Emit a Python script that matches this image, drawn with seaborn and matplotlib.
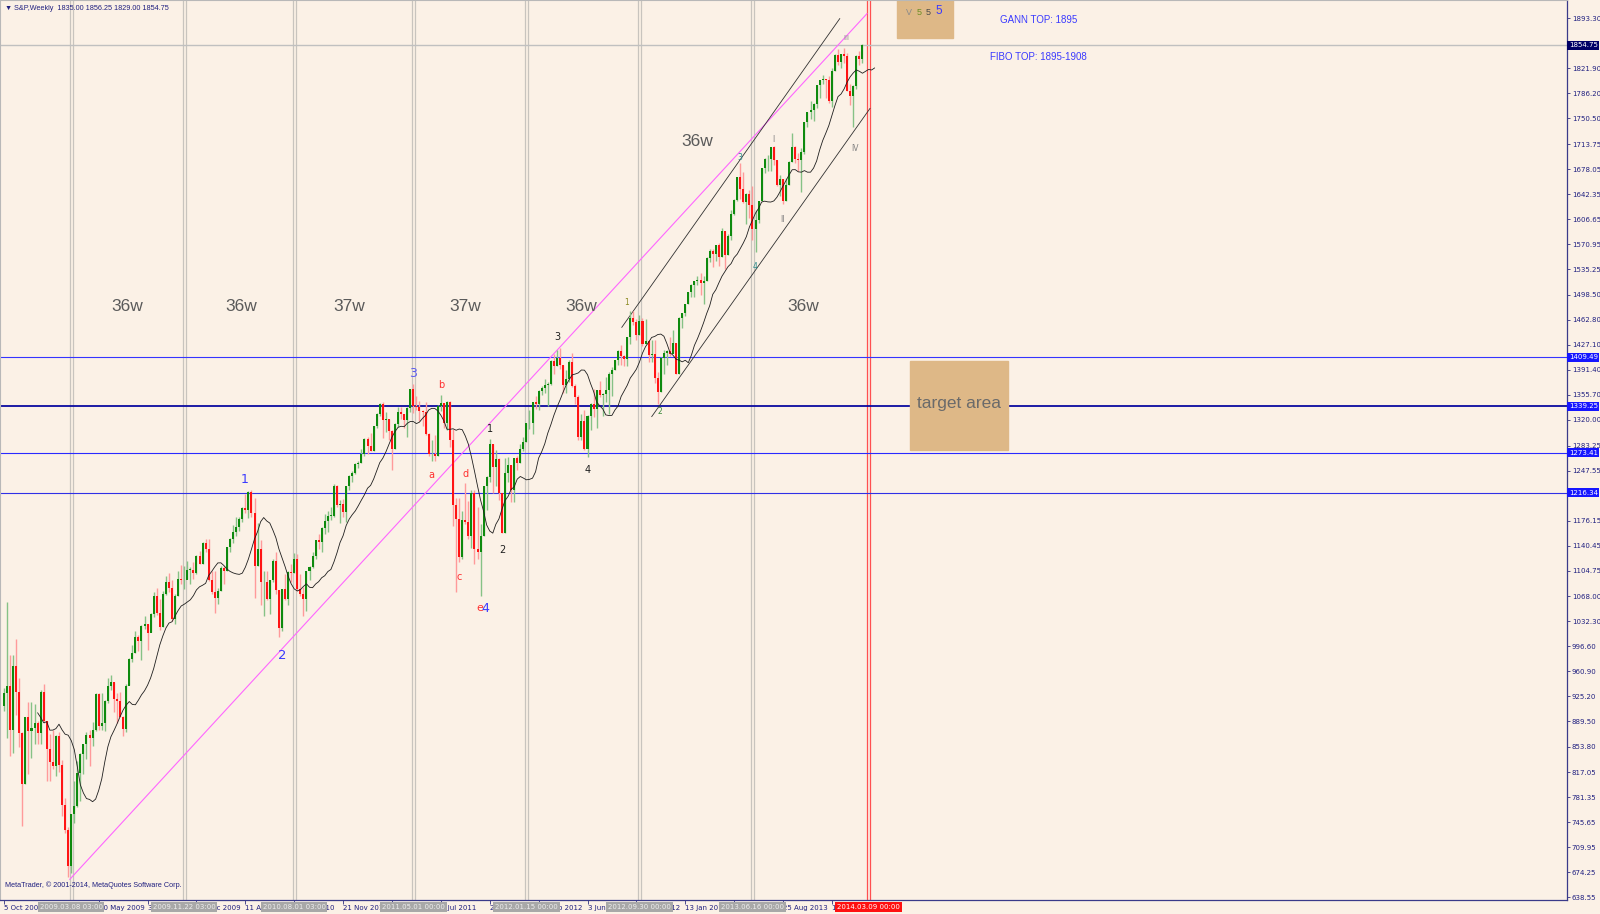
import numpy as np
import pandas as pd
import matplotlib
matplotlib.use("Agg")
import matplotlib.pyplot as plt
import matplotlib.transforms as mtransforms
import seaborn as sns

# ---------------- data (weekly bars) ----------------
first_open = 912
closes = [930, 940, 877, 969, 931, 873, 800, 896, 876, 880, 888, 873, 932, 890, 850, 832, 826, 869, 827, 770,
          735, 683, 757, 769, 816, 843, 857, 870, 866, 878, 929, 883, 887, 919, 940, 946, 921, 919, 896, 879,
          940, 979, 987, 1010, 1004, 1026, 1029, 1016, 1043, 1068, 1044, 1025, 1071, 1088, 1080, 1036, 1069, 1093, 1091, 1091,
          1106, 1106, 1102, 1126, 1115, 1145, 1136, 1092, 1074, 1066, 1076, 1109, 1104, 1139, 1150, 1160, 1167, 1178, 1194, 1192,
          1217, 1187, 1111, 1136, 1088, 1089, 1065, 1092, 1118, 1077, 1023, 1078, 1065, 1103, 1102, 1122, 1079, 1072, 1065, 1105,
          1110, 1126, 1149, 1146, 1165, 1176, 1183, 1183, 1226, 1199, 1200, 1189, 1225, 1240, 1244, 1257, 1258, 1272, 1293, 1283,
          1276, 1311, 1329, 1343, 1320, 1321, 1304, 1279, 1314, 1332, 1328, 1320, 1337, 1364, 1340, 1338, 1333, 1331, 1300, 1271,
          1272, 1268, 1340, 1344, 1316, 1345, 1292, 1199, 1179, 1124, 1177, 1174, 1154, 1216, 1136, 1131, 1155, 1225, 1238, 1285,
          1253, 1264, 1216, 1159, 1244, 1255, 1220, 1265, 1258, 1278, 1289, 1315, 1316, 1345, 1343, 1361, 1366, 1370, 1371, 1404,
          1397, 1408, 1398, 1370, 1379, 1403, 1369, 1353, 1295, 1318, 1278, 1326, 1343, 1335, 1362, 1355, 1357, 1363, 1386, 1391,
          1406, 1418, 1411, 1407, 1438, 1466, 1460, 1441, 1461, 1429, 1433, 1412, 1414, 1380, 1360, 1409, 1416, 1418, 1414, 1430,
          1386, 1466, 1472, 1486, 1503, 1513, 1518, 1520, 1516, 1518, 1551, 1561, 1557, 1569, 1553, 1589, 1555, 1582, 1614, 1634,
          1667, 1650, 1631, 1643, 1627, 1592, 1606, 1632, 1680, 1692, 1692, 1710, 1691, 1656, 1664, 1633, 1655, 1688, 1710, 1692,
          1691, 1703, 1745, 1760, 1762, 1771, 1798, 1805, 1806, 1805, 1775, 1818, 1841, 1831, 1842, 1839, 1790, 1783, 1797, 1839,
          1835, 1854.75]
highs = [938, 1060, 985, 984, 1007, 951, 874, 896, 918, 918, 914, 890, 935, 943, 890, 871, 877, 870, 875, 835,
         780, 739, 758, 804, 833, 845, 857, 875, 878, 889, 930, 930, 930, 920, 951, 956, 946, 930, 931, 898,
         943, 980, 999, 1018, 1013, 1027, 1040, 1028, 1045, 1074, 1080, 1065, 1076, 1097, 1101, 1091, 1072, 1105, 1113, 1112,
         1119, 1110, 1117, 1127, 1133, 1146, 1150, 1150, 1104, 1104, 1080, 1112, 1112, 1139, 1151, 1170, 1181, 1182, 1195, 1214,
         1218, 1220, 1208, 1173, 1148, 1105, 1105, 1092, 1121, 1131, 1077, 1078, 1100, 1104, 1115, 1130, 1129, 1100, 1081, 1105,
         1111, 1131, 1149, 1157, 1167, 1185, 1190, 1196, 1228, 1227, 1205, 1207, 1226, 1241, 1247, 1259, 1262, 1278, 1294, 1296,
         1302, 1312, 1330, 1344, 1345, 1332, 1322, 1305, 1315, 1338, 1339, 1329, 1338, 1364, 1371, 1354, 1347, 1334, 1346, 1301,
         1292, 1298, 1341, 1356, 1344, 1347, 1347, 1307, 1208, 1208, 1190, 1230, 1204, 1220, 1220, 1195, 1171, 1225, 1240, 1293,
         1285, 1277, 1266, 1216, 1266, 1267, 1255, 1266, 1269, 1285, 1296, 1316, 1334, 1345, 1354, 1363, 1368, 1378, 1374, 1406,
         1414, 1420, 1422, 1398, 1391, 1406, 1415, 1371, 1355, 1328, 1334, 1327, 1344, 1364, 1363, 1375, 1358, 1381, 1389, 1395,
         1406, 1420, 1427, 1413, 1438, 1475, 1475, 1464, 1470, 1465, 1464, 1434, 1434, 1434, 1389, 1410, 1420, 1420, 1439, 1448,
         1430, 1467, 1473, 1486, 1503, 1514, 1518, 1525, 1530, 1526, 1553, 1564, 1564, 1570, 1573, 1594, 1590, 1585, 1619, 1635,
         1667, 1687, 1674, 1644, 1648, 1654, 1620, 1632, 1680, 1694, 1698, 1710, 1711, 1691, 1669, 1664, 1665, 1689, 1730, 1711,
         1701, 1708, 1745, 1760, 1775, 1772, 1798, 1805, 1813, 1806, 1811, 1823, 1843, 1849, 1843, 1851, 1844, 1799, 1798, 1841,
         1847, 1856.25]
lows = [904, 866, 840, 845, 899, 853, 741, 800, 815, 837, 857, 857, 857, 888, 805, 804, 821, 812, 818, 754,
        731, 667, 673, 745, 767, 776, 814, 836, 826, 855, 876, 878, 877, 876, 916, 934, 903, 888, 896, 869,
        875, 941, 974, 987, 990, 978, 1021, 991, 1017, 1039, 1042, 1020, 1025, 1070, 1074, 1033, 1029, 1069, 1086, 1079,
        1093, 1086, 1093, 1100, 1115, 1115, 1131, 1090, 1071, 1044, 1057, 1076, 1086, 1104, 1132, 1145, 1155, 1162, 1174, 1187,
        1180, 1181, 1066, 1111, 1056, 1040, 1063, 1043, 1088, 1071, 1010, 1018, 1063, 1056, 1088, 1101, 1076, 1069, 1040, 1047,
        1092, 1108, 1122, 1136, 1131, 1157, 1160, 1177, 1181, 1195, 1173, 1182, 1174, 1220, 1232, 1243, 1252, 1258, 1268, 1271,
        1275, 1276, 1309, 1326, 1294, 1303, 1291, 1249, 1279, 1310, 1321, 1309, 1295, 1332, 1330, 1334, 1318, 1311, 1298, 1268,
        1262, 1262, 1268, 1333, 1309, 1305, 1282, 1168, 1075, 1117, 1122, 1171, 1150, 1137, 1114, 1121, 1068, 1155, 1191, 1231,
        1215, 1226, 1206, 1158, 1158, 1231, 1203, 1203, 1248, 1258, 1275, 1289, 1307, 1300, 1336, 1334, 1356, 1359, 1340, 1370,
        1386, 1397, 1392, 1358, 1358, 1374, 1367, 1343, 1292, 1291, 1277, 1267, 1306, 1324, 1309, 1352, 1326, 1346, 1329, 1354,
        1391, 1399, 1398, 1397, 1397, 1429, 1455, 1434, 1441, 1425, 1429, 1403, 1403, 1373, 1343, 1360, 1385, 1398, 1411, 1416,
        1385, 1385, 1451, 1468, 1485, 1495, 1495, 1513, 1498, 1485, 1518, 1546, 1538, 1547, 1540, 1553, 1536, 1556, 1577, 1613,
        1632, 1635, 1630, 1599, 1608, 1577, 1560, 1601, 1633, 1672, 1676, 1676, 1684, 1654, 1640, 1628, 1633, 1656, 1688, 1687,
        1675, 1646, 1700, 1738, 1750, 1746, 1765, 1780, 1799, 1780, 1772, 1767, 1818, 1827, 1823, 1830, 1790, 1770, 1738, 1792,
        1826, 1829]

tick_pos = [0, 31, 47, 63, 79, 95, 111, 127, 143, 159, 175, 191, 207, 223, 239, 255, 271]
tick_labels = ["5 Oct 2008", "10 May 2009", "30 Aug 2009", "20 Dec 2009", "11 Apr 2010",
               "1 Aug 2010", "21 Nov 2010", "13 Mar 2011", "3 Jul 2011", "23 Oct 2011", "12 Feb 2012",
               "3 Jun 2012", "23 Sep 2012", "13 Jan 2013", "5 May 2013", "25 Aug 2013", "15 Dec 2013"]
vline_pos = [22, 59, 95, 134, 171, 208, 245, 283]
vline_labels = ["2009.03.08 03:00", "2009.11.22 03:00", "2010.08.01 03:00", "2011.05.01 00:00",
                "2012.01.15 00:00", "2012.09.30 00:00", "2013.06.16 00:00", "2014.03.09 00:00"]
y_ticks = [1893.30, 1821.90, 1786.20, 1750.50, 1713.75, 1678.05, 1642.35, 1606.65, 1570.95, 1535.25,
           1498.50, 1462.80, 1427.10, 1391.40, 1355.70, 1320.00, 1283.25, 1247.55, 1176.15, 1140.45,
           1104.75, 1068.00, 1032.30, 996.60, 960.90, 925.20, 889.50, 853.80, 817.05, 781.35, 745.65,
           709.95, 674.25, 638.55]
levels = [1409.49, 1339.25, 1273.41, 1216.34]
last_price = 1854.75
ma_period = 8
ma_shift = 4

cycle_labels = ["36w", "36w", "37w", "37w", "36w", "36w", "36w"]
cycle_pos = [(40.5, 1482), (77.5, 1482), (112.9, 1482), (151, 1482), (189, 1482), (226.8, 1717), (261.5, 1482)]

# ---------------- style ----------------
BG = "#FBF1E6"
sns.set_style("white", rc={"axes.facecolor": BG, "figure.facecolor": BG})
plt.rcParams["font.family"] = ["DejaVu Sans"]

fig = plt.figure(figsize=(16, 9.14), dpi=100)
ax = fig.add_axes([0.0, 14 / 914, 1567 / 1600, 900 / 914])
ax.set_facecolor(BG)

n = len(closes)
x = np.arange(n)
c = np.array(closes, dtype=float)
h = np.array(highs, dtype=float)
l = np.array(lows, dtype=float)
o = np.concatenate([[first_open], c[:-1]])
up = c >= o

# vertical time-cycle lines (double lines)
for i, (p, lab) in enumerate(zip(vline_pos, vline_labels)):
    col = "#FF5050" if i == len(vline_pos) - 1 else "#C8C4BE"
    for dx in (-0.45, 0.45):
        ax.axvline(p + dx, color=col, lw=0.9, zorder=1)

# horizontal levels
ax.axhline(last_price, color="#C0C0C0", lw=1.0, zorder=1)
lvl_col = ["#3434FF", "#0A0AA0", "#2A2AFF", "#3030E6"]
lvl_lw = [0.8, 1.3, 0.8, 0.8]
for lv, cc, lw in zip(levels, lvl_col, lvl_lw):
    ax.axhline(lv, color=cc, lw=lw, zorder=1)

# diagonal trend / channel lines
ax.plot([21.5, 282.5], [664, 1900], color="#FF66FF", lw=0.8, zorder=2)
ax.plot([202.2, 273.6], [1452, 1893], color="#303030", lw=0.6, zorder=2)
ax.plot([212.0, 283.5], [1324.6, 1764.8], color="#303030", lw=0.6, zorder=2)

# candles
ax.vlines(x[up], l[up], h[up], color="#86C286", lw=1.0, zorder=3)
ax.vlines(x[~up], l[~up], h[~up], color="#FF9A9A", lw=1.0, zorder=3)
body_h = np.abs(c - o)
body_h = np.where(body_h < 1.0, 1.0, body_h)
ax.bar(x[up], body_h[up], bottom=np.minimum(o, c)[up], width=0.66, color="#0E8A0E", lw=0, zorder=4)
ax.bar(x[~up], body_h[~up], bottom=np.minimum(o, c)[~up], width=0.66, color="#FF1414", lw=0, zorder=4)

# moving average (shifted)
ma = pd.Series(c).rolling(ma_period).mean()
ma_df = pd.DataFrame({"x": x + ma_shift, "ma": ma}).dropna()
sns.lineplot(data=ma_df, x="x", y="ma", ax=ax, color="#1E1E1E", lw=0.6, zorder=5)

# boxes
ax.add_patch(plt.Rectangle((292.3, 1865), 18.3, 60, color="#DEB887", zorder=2))
ax.add_patch(plt.Rectangle((296.6, 1277), 32.0, 127, color="#DEB887", zorder=2))
ax.text(312.6, 1344, "target area", fontsize=12.5, color="#6A6A6A", ha="center", va="center",
        family="Liberation Sans", zorder=6)
ax.text(296.2, 1902, "V", fontsize=6.5, color="#8A8A8A", ha="center", va="center", family="Liberation Sans")
ax.text(299.6, 1902, "5", fontsize=6.5, color="#6B8E23", ha="center", va="center", family="Liberation Sans")
ax.text(302.6, 1902, "5", fontsize=6.5, color="#4A4A4A", ha="center", va="center", family="Liberation Sans")
ax.text(305.9, 1903, "5", fontsize=8.5, color="#3A3AFF", ha="center", va="center", family="Liberation Sans")

ax.text(326.0, 1891.5, "GANN TOP: 1895", fontsize=7, color="#3A3AFF", ha="left", va="center",
        family="Liberation Sans")
ax.text(322.7, 1838, "FIBO TOP: 1895-1908", fontsize=7, color="#3A3AFF", ha="left", va="center",
        family="Liberation Sans")

# cycle labels
for lab, (px, py) in zip(cycle_labels, cycle_pos):
    ax.text(px, py, lab, fontsize=12.5, color="#5A5A5A", ha="center", va="center", family="Liberation Sans")

# wave labels
waves = [
    ("1", 78.9, 1235, "#3A3AFF", 9), ("2", 91.2, 983, "#3A3AFF", 9.5), ("3", 134.0, 1386, "#5C5CEE", 9),
    ("e", 155.6, 1051, "#FF3030", 8), ("4", 157.5, 1051, "#3A3AFF", 9),
    ("b", 143.0, 1370, "#FF3030", 7), ("a", 140.0, 1242, "#FF3030", 7), ("c", 149.0, 1096, "#FF3030", 7),
    ("d", 151.0, 1243, "#FF3030", 7),
    ("1", 159.0, 1307, "#202020", 7), ("2", 163.0, 1134, "#202020", 7), ("3", 181.0, 1439, "#202020", 7),
    ("4", 191.1, 1248, "#202020", 7),
    ("1", 203.8, 1487, "#8A8A20", 5.5), ("2", 214.8, 1332, "#3A8A3A", 5.5), ("3", 240.9, 1695, "#2A8A8A", 5.5),
    ("4", 245.9, 1539, "#2A8A8A", 5.5),
    ("I", 251.9, 1720, "#808080", 5.5), ("II", 254.9, 1606, "#808080", 5.5), ("III", 275.6, 1865, "#909090", 5),
    ("IV", 278.6, 1708, "#808080", 5.5),
]
for s, px, py, col, fs in waves:
    ax.text(px, py, s, fontsize=fs, color=col, ha="center", va="center", zorder=6, family="DejaVu Sans")

# axes limits / ticks
ax.set_xlim(-4 / 3.055, (1567 - 4) / 3.055)
ax.set_ylim(634.7, 1919.4)
ax.yaxis.tick_right()
ax.set_yticks(y_ticks)
ax.set_yticklabels([f"{v:.2f}" for v in y_ticks])
ax.set_xticks(tick_pos)
ax.set_xticklabels(tick_labels)
for lab in ax.get_xticklabels():
    lab.set_ha("left")
ax.tick_params(axis="y", which="both", right=True, length=2, width=0.6, color="#303080",
               labelsize=5, labelcolor="#202080", pad=1.5)
ax.tick_params(axis="x", which="both", bottom=True, length=3, width=0.6, color="#303080",
               labelsize=5, labelcolor="#202080", pad=0.5)
ax.set_xlabel("")
ax.set_ylabel("")
for side in ("left", "top"):
    ax.spines[side].set_color("#B8B8B8")
    ax.spines[side].set_linewidth(0.8)
for side in ("right", "bottom"):
    ax.spines[side].set_color("#3A3A8A")
    ax.spines[side].set_linewidth(0.9)

# price labels on the right axis
ytrans = mtransforms.blended_transform_factory(ax.transAxes, ax.transData)
ax.text(1.0012, last_price, f"{last_price:.2f}", transform=ytrans, fontsize=5, color="white",
        ha="left", va="center", clip_on=False, zorder=10,
        bbox=dict(boxstyle="square,pad=0.2", fc="#000066", ec="none"))
for lv in levels:
    ax.text(1.0012, lv, f"{lv:.2f}", transform=ytrans, fontsize=5, color="white",
            ha="left", va="center", clip_on=False, zorder=10,
            bbox=dict(boxstyle="square,pad=0.2", fc="#1616FF", ec="none"))

# date labels of the vertical lines
xtrans = mtransforms.blended_transform_factory(ax.transData, ax.transAxes)
for i, (p, lab) in enumerate(zip(vline_pos, vline_labels)):
    red = i == len(vline_pos) - 1
    ax.text(p, -0.0078, lab, transform=xtrans, fontsize=5, color="white" if red else "#EEEEEE",
            ha="center", va="center", clip_on=False, zorder=10,
            bbox=dict(boxstyle="square,pad=0.25", fc="#FF1010" if red else "#A8A8A8", ec="none"))

# header and footer
ax.text(0.003, 1 - 8 / 900, "\u25bc S&P,Weekly  1835.00 1856.25 1829.00 1854.75", transform=ax.transAxes,
        fontsize=5.2, color="#202080", ha="left", va="center", family=["Liberation Sans", "DejaVu Sans"])
ax.text(0.003, 1 - 885 / 900, "MetaTrader, \u00a9 2001-2014, MetaQuotes Software Corp.", transform=ax.transAxes,
        fontsize=5.2, color="#202080", ha="left", va="center", family=["Liberation Sans", "DejaVu Sans"])

fig.savefig("out.png", dpi=100, facecolor=BG)
